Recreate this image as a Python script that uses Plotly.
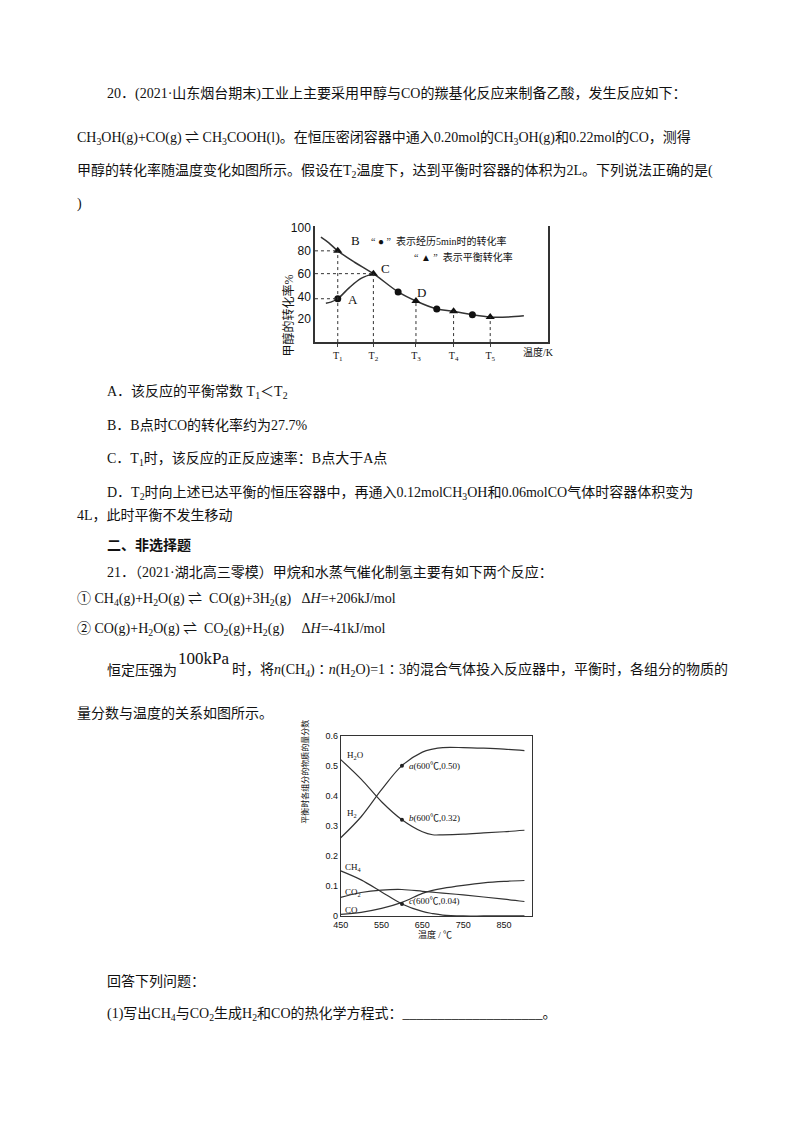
import plotly.graph_objects as go

W, H = 800, 1132
OFF = 10
def px(x): return (x - OFF) / W
def py(y): return 1 - (y - OFF) / H

FONT = "Liberation Serif, Noto Sans CJK SC"

# ---- Chart 1 data (x in axis units, T positions) ----
t_labels = ["T<sub>1</sub>", "T<sub>2</sub>", "T<sub>3</sub>", "T<sub>4</sub>", "T<sub>5</sub>"]
t_pos = [23, 59, 102, 140, 177]
eq_curve_x = [6, 14, 23, 40, 59, 84, 102, 123, 140, 159, 177, 195, 211]
eq_curve_y = [92, 87, 80, 70, 60, 44, 36, 29, 27, 24, 22, 22, 23]
low_curve_x = [11, 16, 23, 35, 47, 59]
low_curve_y = [34, 35, 38, 48, 56, 60]
tri_x = [23, 59, 102, 140, 177]
tri_y = [80, 60, 36, 27, 22]
dot_x = [23, 84, 123, 159]
dot_y = [38, 44, 29, 24]

# ---- Chart 2 data ----
temp = [450, 500, 550, 600, 650, 675, 700, 750, 800, 850, 900]
h2o = [0.52, 0.455, 0.38, 0.32, 0.28, 0.27, 0.27, 0.272, 0.276, 0.28, 0.285]
h2 = [0.26, 0.33, 0.42, 0.50, 0.545, 0.555, 0.56, 0.56, 0.558, 0.555, 0.55]
ch4 = [0.15, 0.12, 0.08, 0.04, 0.015, 0.008, 0.003, 0.0, 0.0, 0.0, 0.0]
co2 = [0.062, 0.078, 0.086, 0.088, 0.082, 0.079, 0.076, 0.07, 0.063, 0.056, 0.048]
co = [0.005, 0.012, 0.025, 0.045, 0.075, 0.085, 0.092, 0.102, 0.11, 0.115, 0.118]

fig = go.Figure()
line = dict(color="#333", width=1.5)
fig.add_trace(go.Scatter(x=eq_curve_x, y=eq_curve_y, mode="lines", line=dict(shape="spline", **line), xaxis="x", yaxis="y"))
fig.add_trace(go.Scatter(x=low_curve_x, y=low_curve_y, mode="lines", line=dict(shape="spline", **line), xaxis="x", yaxis="y"))
fig.add_trace(go.Scatter(x=tri_x, y=tri_y, mode="markers", marker=dict(symbol="triangle-up", size=8, color="#111"), xaxis="x", yaxis="y"))
fig.add_trace(go.Scatter(x=dot_x, y=dot_y, mode="markers", marker=dict(symbol="circle", size=7, color="#111"), xaxis="x", yaxis="y"))

for s in [h2o, h2, ch4, co2, co]:
    fig.add_trace(go.Scatter(x=temp, y=s, mode="lines", line=dict(shape="spline", color="#333", width=1.2), xaxis="x2", yaxis="y2"))
fig.add_trace(go.Scatter(x=[600, 600, 600], y=[h2[3], h2o[3], ch4[3]], mode="markers", marker=dict(size=4, color="#222"), xaxis="x2", yaxis="y2"))

shapes = []
for xp, yp in zip(tri_x, tri_y):
    shapes.append(dict(type="line", xref="x", yref="y", x0=xp, x1=xp, y0=0, y1=yp, line=dict(color="#333", width=1, dash="dot")))
for yp, xp in [(80, 23), (60, 59), (38, 23)]:
    shapes.append(dict(type="line", xref="x", yref="y", x0=0, x1=xp, y0=yp, y1=yp, line=dict(color="#333", width=1, dash="dot")))

fig.update_layout(
    width=W, height=H, margin=dict(l=0, r=0, t=0, b=0), paper_bgcolor="white", plot_bgcolor="white",
    showlegend=False, font=dict(family=FONT, color="#111", size=14),
    xaxis=dict(domain=[px(312), px(547)], range=[0, 235], tickvals=t_pos, ticktext=t_labels,
               showgrid=False, zeroline=False, showline=True, linecolor="#333", linewidth=1.5,
               ticks="outside", ticklen=3, tickfont=dict(size=10, family="Liberation Serif", color="#111")),
    yaxis=dict(domain=[py(342), py(225)], range=[0, 101.7], tickvals=[20, 40, 60, 80, 100],
               showgrid=False, zeroline=False, showline=True, linecolor="#333", linewidth=1.5,
               mirror=True, ticks="", tickfont=dict(size=12, family="Liberation Sans", color="#111")),
    xaxis2=dict(domain=[px(338), px(531)], range=[450, 918], tickvals=[450, 550, 650, 750, 850],
                showgrid=False, zeroline=False, showline=True, linecolor="#333", mirror=True, ticks="",
                tickfont=dict(size=9, family="Liberation Sans", color="#111"), anchor="y2"),
    yaxis2=dict(domain=[py(921), py(739)], range=[0, 0.6], tickvals=[0, 0.1, 0.2, 0.3, 0.4, 0.5, 0.6],
                ticktext=["0", "0.1", "0.2", "0.3", "0.4", "0.5", "0.6"],
                showgrid=False, zeroline=False, showline=True, linecolor="#333", mirror=True, ticks="",
                tickfont=dict(size=9, family="Liberation Sans", color="#111"), anchor="x2"),
    shapes=shapes,
)

ann = []
def T(x, y, text, size=14, **kw):
    d = dict(x=px(x), y=py(y), xref="paper", yref="paper", text=text, showarrow=False,
             xanchor="left", yanchor="middle", font=dict(size=size, family=FONT, color="#111"))
    d.update(kw)
    ann.append(d)

T(100, 91, "20．(2021·山东烟台期末)工业上主要采用甲醇与CO的羰基化反应来制备乙酸，发生反应如下：")
T(70, 136, "CH<sub>3</sub>OH(g)+CO(g) ⇌ CH<sub>3</sub>COOH(l)。在恒压密闭容器中通入0.20mol的CH<sub>3</sub>OH(g)和0.22mol的CO，测得")
T(70, 169, "甲醇的转化率随温度变化如图所示。假设在T<sub>2</sub>温度下，达到平衡时容器的体积为2L。下列说法正确的是(")
T(70, 203, ")")
T(100, 392, "A．该反应的平衡常数 T<sub>1</sub>＜T<sub>2</sub>")
T(100, 426, "B．B点时CO的转化率约为27.7%")
T(100, 460, "C．T<sub>1</sub>时，该反应的正反应速率：B点大于A点")
T(100, 494, "D．T<sub>2</sub>时向上述已达平衡的恒压容器中，再通入0.12molCH<sub>3</sub>OH和0.06molCO气体时容器体积变为")
T(70, 517, "4L，此时平衡不发生移动")
T(100, 547, "<b>二、非选择题</b>")
T(100, 574, "21．（2021·湖北高三零模）甲烷和水蒸气催化制氢主要有如下两个反应：")
T(70, 602, "① CH<sub>4</sub>(g)+H<sub>2</sub>O(g) ⇌  CO(g)+3H<sub>2</sub>(g)   Δ<i>H</i>=+206kJ/mol")
T(70, 632, "② CO(g)+H<sub>2</sub>O(g) ⇌  CO<sub>2</sub>(g)+H<sub>2</sub>(g)     Δ<i>H</i>=-41kJ/mol")
T(100, 673, "恒定压强为")
T(172, 661, "100kPa", size=17)
T(226, 673, "时，将<i>n</i>(CH<sub>4</sub>)∶<i>n</i>(H<sub>2</sub>O)=1∶3的混合气体投入反应器中，平衡时，各组分的物质的")
T(70, 717, "量分数与温度的关系如图所示。")
T(100, 987, "回答下列问题：")
T(100, 1020, "(1)写出CH<sub>4</sub>与CO<sub>2</sub>生成H<sub>2</sub>和CO的热化学方程式：____________________。")

# chart 1 labels
T(346, 240, "B", size=13)
T(377, 268, "C", size=13)
T(343, 299, "A", size=13)
T(413, 292, "D", size=13)
T(367, 240, "“ ● ”  表示经历5min时的转化率", size=10)
T(410, 256, "“ ▲ ”  表示平衡转化率", size=10)
T(520, 352, "温度/K", size=10)
ann.append(dict(x=px(276), y=py(272), xref="paper", yref="paper", text="甲醇的转化率%", textangle=-90,
                showarrow=False, font=dict(size=12, family=FONT, color="#111")))
# chart 2 labels
T(342, 759, "H<sub>2</sub>O", size=9)
T(342, 818, "H<sub>2</sub>", size=9)
T(340, 872, "CH<sub>4</sub>", size=9)
T(340, 897, "CO<sub>2</sub>", size=9)
T(340, 915, "CO", size=9)
T(405, 770, "<i>a</i>(600℃,0.50)", size=9)
T(405, 822, "<i>b</i>(600℃,0.32)", size=9)
T(405, 906, "<i>c</i>(600℃,0.04)", size=9)
ann.append(dict(x=px(433), y=py(947), xref="paper", yref="paper", text="温度 / ℃", showarrow=False,
                font=dict(size=9, family=FONT, color="#111")))
ann.append(dict(x=px(302), y=py(830), xref="paper", yref="paper", text="平衡时各组分的物质的量分数", textangle=-90,
                showarrow=False, font=dict(size=8, family=FONT, color="#111")))
fig.update_layout(annotations=ann)
fig.write_html("out.html")
